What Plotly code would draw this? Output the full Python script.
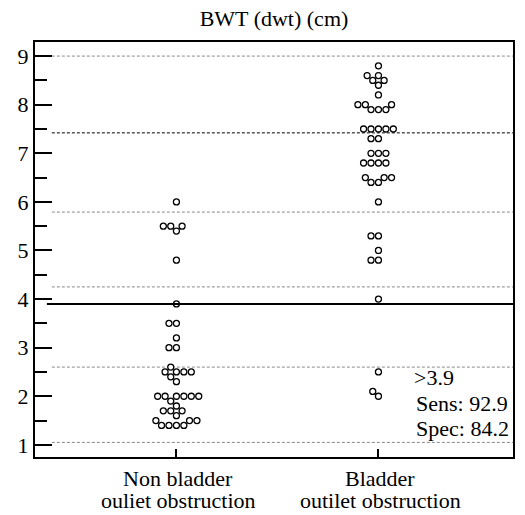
import numpy as np
import plotly.graph_objects as go

# ---------------- data ----------------
categories = ["Non bladder|ouliet obstruction", "Bladder|outilet obstruction"]
non_obstruction = [6.0, 5.5, 5.5, 5.5, 5.4, 4.8, 3.9, 3.5, 3.5, 3.2, 3.0, 3.0, 2.6,
                   2.5, 2.5, 2.5, 2.5, 2.4, 2.3, 2.0, 2.0, 2.0, 2.0, 2.0, 2.0,
                   1.9, 1.8, 1.7, 1.7, 1.7, 1.6, 1.5, 1.5, 1.5, 1.4, 1.4, 1.4, 1.4]
obstruction = [8.8, 8.6, 8.6, 8.5, 8.5, 8.4, 8.2, 8.0, 8.0, 8.0, 7.9, 7.9, 7.9,
               7.5, 7.5, 7.5, 7.5, 7.5, 7.3, 7.3, 7.0, 7.0, 7.0, 6.8, 6.8, 6.8, 6.8,
               6.5, 6.5, 6.5, 6.4, 6.4, 6.0, 5.3, 5.3, 5.0, 4.8, 4.8, 4.0, 2.5, 2.1, 2.0]
cutoff = 3.9
gray_dashed_levels = [9.0, 5.79, 4.25, 2.6, 1.05]
dark_dashed_levels = [7.42]
y_ticks = [1, 2, 3, 4, 5, 6, 7, 8, 9]
stats_text = [">3.9", "Sens: 92.9", "Spec: 84.2"]
title = "BWT (dwt) (cm)"

# ---------------- layout geometry ----------------
# page body has an 8px default margin, so figure coords = reference coords - 8
OFF = 8
W, H = 517, 507
ML, MR, MT, MB = 25, 10, 34, 58
yr = [0.75, 9.29]
xr = [-0.70, 1.666]
plot_w = W - ML - MR
plot_h = H - MT - MB
px_per_y = plot_h / (yr[1] - yr[0])
px_per_x = plot_w / (xr[1] - xr[0])
FONT = "'Liberation Serif', 'Times New Roman', 'DejaVu Serif', serif"
FS = 22


def beeswarm(values, diam=7.5):
    vals = np.asarray(values, dtype=float)
    order = np.argsort(vals, kind="stable")
    placed = []
    xs = np.zeros(len(vals))
    for i in order:
        y = vals[i] * px_per_y
        forb = []
        for py, pxx in placed:
            dy = abs(py - y)
            if dy < diam:
                h = np.sqrt(diam ** 2 - dy ** 2)
                forb.append((pxx - h, pxx + h))
        cands = [0.0] + [a for a, b in forb] + [b for a, b in forb]
        cands.sort(key=lambda c: (round(abs(c), 6), c))
        x = 0.0
        for c in cands:
            if all(not (a + 1e-6 < c < b - 1e-6) for a, b in forb):
                x = c
                break
        placed.append((y, x))
        xs[i] = x
    return xs / px_per_x


fig = go.Figure()
for idx, vals in enumerate([non_obstruction, obstruction]):
    offs = beeswarm(vals)
    fig.add_trace(go.Scatter(
        x=idx + offs, y=vals, mode="markers",
        marker=dict(symbol="circle", size=6, color="white",
                    line=dict(color="black", width=1.3)),
        showlegend=False, hoverinfo="y"))

# reference lines
x0_dash = 17 / plot_w
for lv in gray_dashed_levels:
    fig.add_shape(type="line", xref="x domain", yref="y", x0=x0_dash, x1=1, y0=lv, y1=lv,
                  line=dict(color="#8a8a8a", width=1, dash="3px,2px"), layer="below")
for lv in dark_dashed_levels:
    fig.add_shape(type="line", xref="x domain", yref="y", x0=x0_dash, x1=1, y0=lv, y1=lv,
                  line=dict(color="black", width=1, dash="3px,2px"), layer="below")
fig.add_shape(type="line", xref="x domain", yref="y", x0=12 / plot_w, x1=1, y0=cutoff, y1=cutoff,
              line=dict(color="black", width=2))

# stats text
for k, t in enumerate(stats_text):
    ypix = [377, 403, 428][k] - OFF
    xpix = (413 if k == 0 else 415) - OFF
    fig.add_annotation(text=t, xref="paper", yref="paper",
                       x=(xpix - ML) / plot_w,
                       y=(H - MB - ypix) / plot_h, xanchor="left", yanchor="middle",
                       showarrow=False, font=dict(family=FONT, size=FS, color="black"))

# category labels (two lines each)
for idx, cat in enumerate(categories):
    for j, line in enumerate(cat.split("|")):
        ypix = [478, 500][j] - OFF
        fig.add_annotation(text=line, xref="x", yref="paper", x=idx + 0.01,
                           y=(H - MB - ypix) / plot_h, xanchor="center", yanchor="middle",
                           showarrow=False, font=dict(family=FONT, size=FS, color="black"))

fig.update_layout(
    width=W, height=H,
    margin=dict(l=ML, r=MR, t=MT, b=MB),
    paper_bgcolor="white", plot_bgcolor="white",
    title=dict(text=title, x=(ML + plot_w / 2) / W, xanchor="center",
               y=1 - (18 - OFF) / H, yanchor="middle",
               font=dict(family=FONT, size=FS, color="black")),
    font=dict(family=FONT, size=FS, color="black"),
    xaxis=dict(range=xr, showgrid=False, zeroline=False, showline=True, mirror=True,
               linecolor="black", linewidth=2, tickvals=[0, 1], ticks="inside",
               ticklen=8, tickwidth=2, tickcolor="black", showticklabels=False),
    yaxis=dict(range=yr, showgrid=False, zeroline=False, showline=True, mirror=True,
               linecolor="black", linewidth=2, tickvals=y_ticks, ticks="inside",
               ticklen=17, tickwidth=2, tickcolor="black",
               tickfont=dict(family=FONT, size=FS, color="black"),
               minor=dict(dtick=0.5, ticks="inside", ticklen=12, tickwidth=2,
                          tickcolor="black", showgrid=False)),
)

fig.write_html("out.html")
